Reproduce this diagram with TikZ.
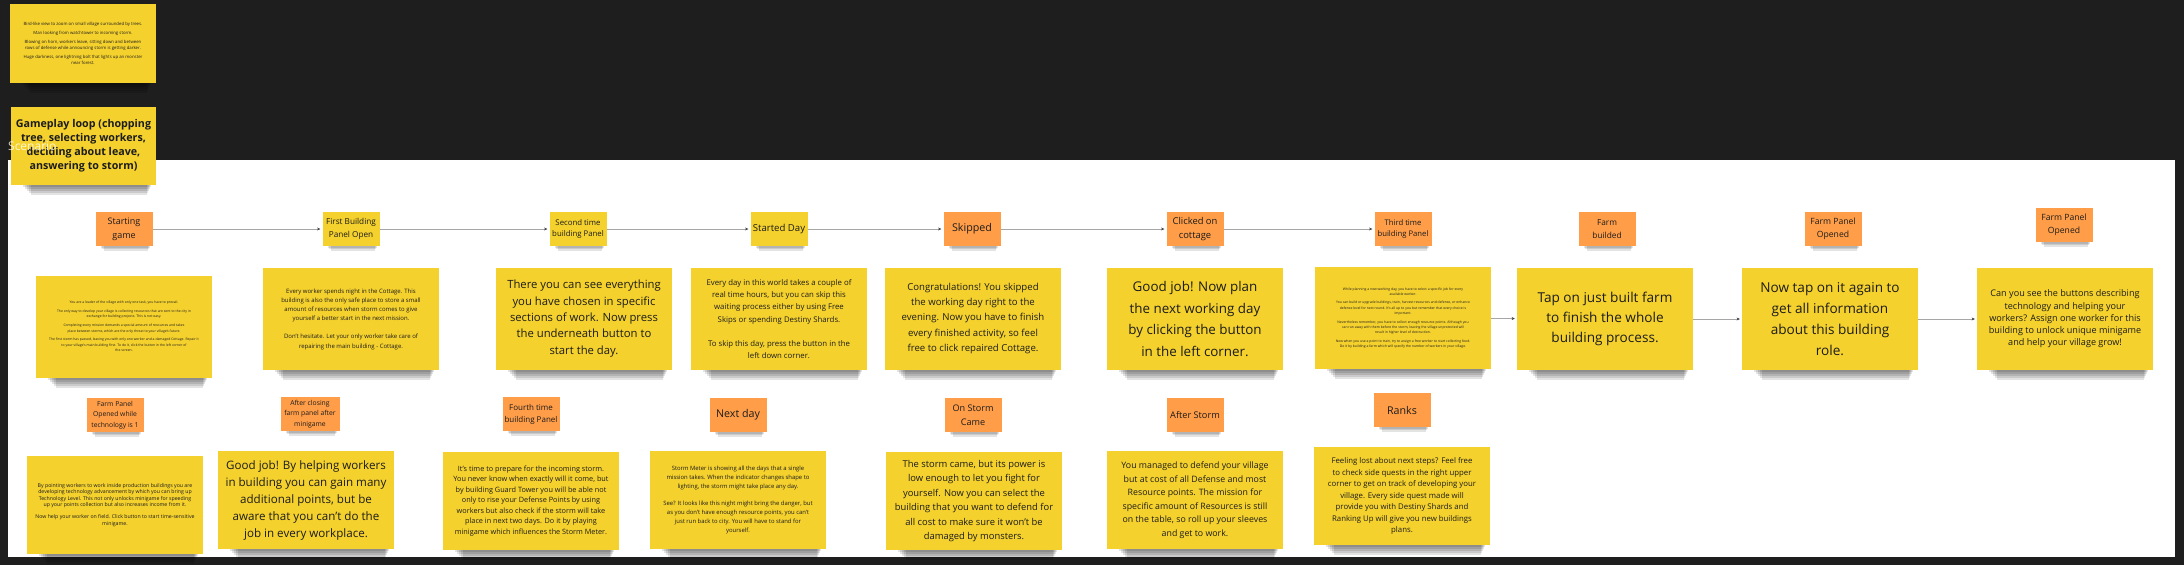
\documentclass[tikz,border=0pt]{standalone}
\usepackage{fontspec}
\setmainfont{Open Sans}
\usetikzlibrary{arrows.meta,calc}

\definecolor{bg}{HTML}{1E1E1E}
\definecolor{sticky}{HTML}{F5D12E}
\definecolor{stickyor}{HTML}{FF9D48}
\definecolor{ink}{HTML}{1C1C1C}
\definecolor{linegray}{HTML}{A6A6A6}

\newcommand\fs[2]{\fontsize{#1}{#2}\selectfont}
\pgfdeclarelayer{bgbase}
\pgfdeclarelayer{shade}
\pgfsetlayers{bgbase,shade,main}

\tikzset{
  note/.style={fill=sticky, text=ink, align=center, inner sep=2pt,
    minimum width=176pt, minimum height=102pt},
  bnote/.style={note, minimum height=98pt},
  olabel/.style={fill=stickyor, text=ink, align=center, inner sep=1pt,
    minimum width=57pt, minimum height=34pt},
  ylabel/.style={olabel, fill=sticky},
  conn/.style={draw=linegray, line width=0.7pt, shorten >=2pt,
    -{Stealth[length=3.2pt,width=3pt,color=black!75]}},
  shadowfill/.style={fill=black, opacity=0.11},
}

\begin{document}
\begin{tikzpicture}[x=1pt,y=-1pt]
\useasboundingbox (0,0) rectangle (2184,565);
\begin{pgfonlayer}{bgbase}
\fill[bg] (0,0) rectangle (2184,565);
\fill[white] (8,160) rectangle (2175,557);
\end{pgfonlayer}

% top-left notes
\node[note, minimum width=146pt, minimum height=79pt, font=\fs{4.3}{6}] (tl1) at (83,43.5)
 {Bird-like view to zoom on small village surrounded by trees.\\[3pt]
  Man looking from watchtower to incoming storm.\\[3pt]
  Blowing on horn, workers leave, sitting down and between\\
  rows of defense while announcing storm is getting darker.\\[3pt]
  Huge darkness, one lightning bolt that lights up an monster\\
  near forest.};
\node[note, minimum width=145pt, minimum height=78pt, font=\fs{10.7}{14}\bfseries] (tl2) at (83.5,146)
 {Gameplay loop (chopping\\tree, selecting workers,\\deciding about leave,\\answering to storm)};
\node[anchor=west, text=white, opacity=0.8, font=\fs{12}{14}, inner sep=0pt] (scen) at (8,146) {Scenario};

% top row labels
\node[olabel, font=\fs{9}{13.6}] (l1) at (124,229) {Starting\\game};
\node[ylabel, font=\fs{8.2}{12.5}] (l2) at (351,229) {First Building\\Panel Open};
\node[ylabel, font=\fs{7.8}{11.8}] (l3) at (578,229) {Second time\\building Panel};
\node[ylabel, font=\fs{9.6}{12}] (l4) at (779,229) {Started Day};
\node[olabel, font=\fs{10.7}{13}] (l5) at (972,229) {Skipped};
\node[olabel, font=\fs{9.4}{13.5}] (l6) at (1195,229) {Clicked on\\cottage};
\node[olabel, font=\fs{7.7}{11.8}] (l7) at (1403,229) {Third time\\building Panel};
\node[olabel, font=\fs{8.3}{13}] (l8) at (1607,229) {Farm\\builded};
\node[olabel, font=\fs{8.6}{12.5}] (l9) at (1833,229) {Farm Panel\\Opened};
\node[olabel, font=\fs{8.6}{12.5}] (l10) at (2064,225) {Farm Panel\\Opened};

% top row notes
\node[note, font=\fs{3.4}{5.6}] (n1) at (124,326.5)
 {You are a leader of the village with only one task, you have to prevail.\\[3pt]
  The only way to develop your village is collecting resources that are sent to the city in\\
  exchange for building projects. This is not easy.\\[3pt]
  Completing every mission demands a special amount of resources and takes\\
  place between storms, which are the only threat to your village's future.\\[3pt]
  The first storm has passed, leaving you with only one worker and a damaged Cottage. Repair it\\
  to your village's main building first. To do it, click the button in the left corner of\\
  the screen.};
\node[note, font=\fs{6}{9.2}] (n2) at (351,319)
 {Every worker spends night in the Cottage. This\\
  building is also the only safe place to store a small\\
  amount of resources when storm comes to give\\
  yourself a better start in the next mission.\\[9pt]
  Don't hesitate. Let your only worker take care of\\
  repairing the main building - Cottage.};
\node[note, font=\fs{11.3}{16.3}] (n3) at (584,318.5)
 {There you can see everything\\you have chosen in specific\\sections of work. Now press\\the underneath button to\\start the day.};
\node[note, font=\fs{7.8}{12.3}] (n4) at (779,319)
 {Every day in this world takes a couple of\\
  real time hours, but you can skip this\\
  waiting process either by using Free\\
  Skips or spending Destiny Shards.\\[12pt]
  To skip this day, press the button in the\\
  left down corner.};
\node[note, font=\fs{9.6}{15.4}] (n5) at (973,318.5)
 {Congratulations! You skipped\\the working day right to the\\evening. Now you have to finish\\every finished activity, so feel\\free to click repaired Cottage.};
\node[note, font=\fs{13.4}{21.4}] (n6) at (1195,319)
 {Good job! Now plan\\the next working day\\by clicking the button\\in the left corner.};
\node[note, font=\fs{3.4}{5.4}] (n7) at (1403,318)
 {While planning a new working day, you have to select a specific job for every\\
  available worker.\\[3pt]
  You can build or upgrade buildings, train, harvest resources and defense, or enhance\\
  defense level for next round. It's all up to you but remember that every choice is\\
  important.\\[3pt]
  Nevertheless remember, you have to collect enough resource points. Although you\\
  can run away with them before the storm, leaving the village unprotected will\\
  result in higher level of destruction.\\[3pt]
  Now when you use a point to train, try to assign a free worker to start collecting food.\\
  Do it by building a farm which will specify the number of workers in your village.};
\node[note, font=\fs{13.6}{20}] (n8) at (1605,319)
 {Tap on just built farm\\to finish the whole\\building process.};
\node[note, font=\fs{13.6}{21}] (n9) at (1830,319)
 {Now tap on it again to\\get all information\\about this building\\role.};
\node[note, font=\fs{9.1}{12.2}] (n10) at (2065,319)
 {Can you see the buttons describing\\technology and helping your\\workers? Assign one worker for this\\building to unlock unique minigame\\and help your village grow!};

% bottom row labels
\node[olabel, font=\fs{6.8}{10.3}] (bl1) at (115,415) {Farm Panel\\Opened while\\technology is 1};
\node[olabel, minimum width=59pt, font=\fs{6.8}{10.3}] (bl2) at (310,414) {After closing\\farm panel after\\minigame};
\node[olabel, font=\fs{8}{12}] (bl3) at (531,414) {Fourth time\\building Panel};
\node[olabel, font=\fs{10.7}{13}] (bl4) at (738,415) {Next day};
\node[olabel, font=\fs{9.1}{13.5}] (bl5) at (973,415) {On Storm\\Came};
\node[olabel, font=\fs{9.2}{12}] (bl6) at (1195,415) {After Storm};
\node[olabel, font=\fs{10.7}{13}] (bl7) at (1402,410) {Ranks};

% bottom row notes
\node[bnote, font=\fs{5.2}{6.3}] (b1) at (115,505)
 {By pointing workers to work inside production buildings you are\\
  developing technology advancement by which you can bring up\\
  Technology Level. This not only unlocks minigame for speeding\\
  up your points collection but also increases income from it.\\[6pt]
  Now help your worker on field. Click button to start time-sensitive\\
  minigame.};
\node[bnote, font=\fs{11.6}{17}] (b2) at (306,500)
 {Good job! By helping workers\\in building you can gain many\\additional points, but be\\aware that you can't do the\\job in every workplace.};
\node[bnote, font=\fs{7.3}{10.5}] (b3) at (531,501)
 {It's time to prepare for the incoming storm.\\
  You never know when exactly will it come, but\\
  by building Guard Tower you will be able not\\
  only to rise your Defense Points by using\\
  workers but also check if the storm will take\\
  place in next two days. Do it by playing\\
  minigame which influences the Storm Meter.};
\node[bnote, font=\fs{5.9}{9}] (b4) at (738,500)
 {Storm Meter is showing all the days that a single\\
  mission takes. When the indicator changes shape to\\
  lighting, the storm might take place any day.\\[8pt]
  See? It looks like this night might bring the danger, but\\
  as you don't have enough resource points, you can't\\
  just run back to city. You will have to stand for\\
  yourself.};
\node[bnote, font=\fs{9.4}{14.5}] (b5) at (974,501)
 {The storm came, but its power is\\low enough to let you fight for\\yourself. Now you can select the\\building that you want to defend for\\all cost to make sure it won't be\\damaged by monsters.};
\node[bnote, font=\fs{8.8}{13.5}] (b6) at (1195,500)
 {You managed to defend your village\\but at cost of all Defense and most\\Resource points. The mission for\\specific amount of Resources is still\\on the table, so roll up your sleeves\\and get to work.};
\node[bnote, font=\fs{7.8}{11.5}] (b7) at (1402,496)
 {Feeling lost about next steps? Feel free\\to check side quests in the right upper\\corner to get on track of developing your\\village. Every side quest made will\\provide you with Destiny Shards and\\Ranking Up will give you new buildings\\plans.};

% soft shadows under the sticky notes
\begin{pgfonlayer}{shade}
\foreach \n in {tl1,tl2,n1,n2,n3,n4,n5,n6,n7,n8,n9,n10,b1,b2,b3,b4,b5,b6,b7} {
  \foreach \k in {2,4,6,8,10} {
    \fill[shadowfill] ($(\n.south west)+(10+\k,-4)$) rectangle ($(\n.south east)+(-4-0.5*\k,\k)$);
  }
}
\foreach \n in {l1,l2,l3,l4,l5,l6,l7,l8,l9,l10,bl1,bl2,bl3,bl4,bl5,bl6,bl7} {
  \foreach \k in {1.5,3,4.5} {
    \fill[shadowfill] ($(\n.south west)+(4+\k,-2)$) rectangle ($(\n.south east)+(-2-0.5*\k,\k)$);
  }
}
\end{pgfonlayer}

% connectors
\draw[conn] (l1) -- (l2);
\draw[conn] (l2) -- (l3);
\draw[conn] (l3) -- (l4);
\draw[conn] (l4) -- (l5);
\draw[conn] (l5) -- (l6);
\draw[conn] (l6) -- (l7);
\draw[conn] (n7) -- (n8);
\draw[conn] (n8) -- (n9);
\draw[conn] (n9) -- (n10);
\end{tikzpicture}
\end{document}
